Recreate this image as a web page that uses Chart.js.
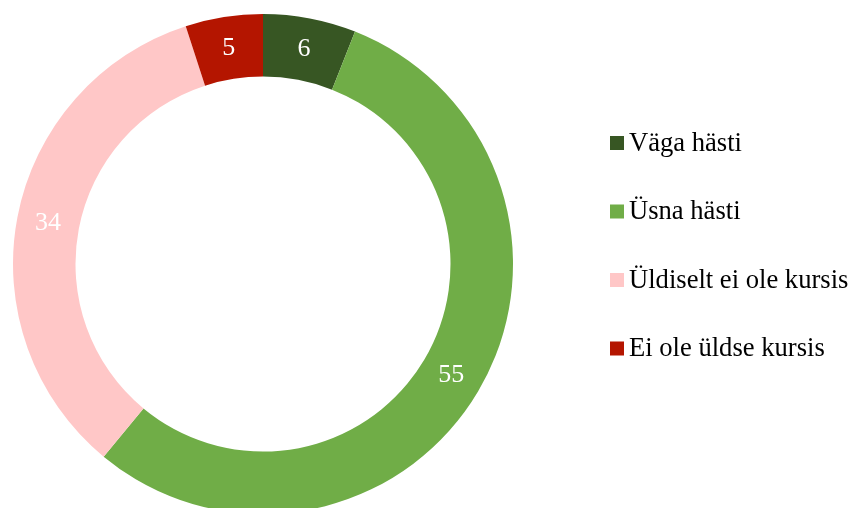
<!DOCTYPE html>
<html>
<head>
<meta charset="utf-8">
<script src="https://cdn.jsdelivr.net/npm/chart.js@4"></script>
<style>
  html, body { margin: 0; padding: 0; overflow: hidden; background: #fff; }
  #wrap { width: 852px; height: 528px; position: relative; }
</style>
</head>
<body>
<div id="wrap"><canvas id="chart"></canvas></div>
<script>
// Andmed
const categories = ["Väga hästi", "Üsna hästi", "Üldiselt ei ole kursis", "Ei ole üldse kursis"];
const values = [6, 55, 34, 5];
const colors = ["#375623", "#70AD47", "#FFC7C7", "#B41500"];

const serif = "'Liberation Serif', 'Times New Roman', serif";

// Väärtused rõnga sees
const valueLabels = {
  id: "valueLabels",
  afterDatasetsDraw(chart) {
    const ctx = chart.ctx;
    const meta = chart.getDatasetMeta(0);
    ctx.save();
    ctx.fillStyle = "#fff";
    ctx.font = "26px " + serif;
    ctx.textAlign = "center";
    ctx.textBaseline = "middle";
    meta.data.forEach((arc, i) => {
      const p = arc.tooltipPosition();
      ctx.fillText(values[i], p.x, p.y);
    });
    ctx.restore();
  },
};

// Legend paremal
const sideLegend = {
  id: "sideLegend",
  afterDraw(chart) {
    const ctx = chart.ctx;
    const x = 610;
    const y0 = 143;
    const step = 68.5;
    ctx.save();
    ctx.font = "26.6px " + serif;
    ctx.textBaseline = "middle";
    ctx.textAlign = "left";
    chart.data.labels.forEach((label, i) => {
      const y = y0 + i * step;
      ctx.fillStyle = chart.data.datasets[0].backgroundColor[i];
      ctx.fillRect(x, y - 7, 14, 14);
      ctx.fillStyle = "#000";
      ctx.fillText(label, x + 19, y + 1);
    });
    ctx.restore();
  },
};

new Chart(document.getElementById("chart"), {
  type: "doughnut",
  data: {
    labels: categories,
    datasets: [
      {
        data: values,
        backgroundColor: colors,
        borderWidth: 0,
      },
    ],
  },
  options: {
    responsive: true,
    maintainAspectRatio: false,
    animation: false,
    cutout: "75%",
    layout: { padding: { left: 13, right: 339, top: 14, bottom: 14 } },
    plugins: {
      legend: { display: false },
      tooltip: { enabled: false },
    },
  },
  plugins: [valueLabels, sideLegend],
});
</script>
</body>
</html>
